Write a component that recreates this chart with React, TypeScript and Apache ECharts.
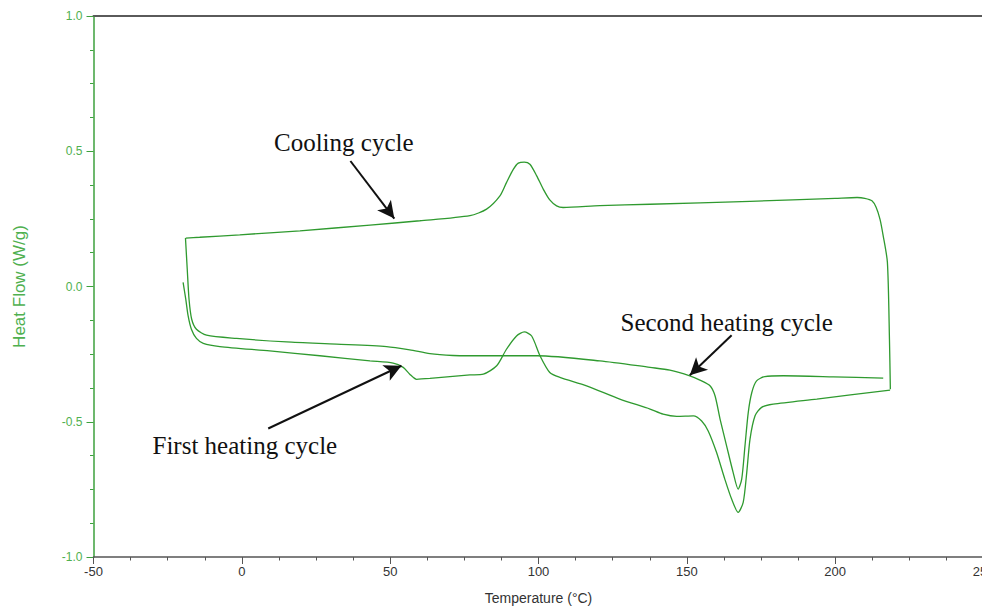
import React, { useEffect, useRef } from "react";
import * as echarts from "echarts";

// Cooling cycle (recorded from high to low temperature)
const coolX = [218.6, 218.3, 217.6, 216.1, 215.1, 213.8, 212.4, 210.0, 207.4, 200.0, 171.3, 137.6, 120.7, 108.3, 106.1, 103.8, 101.6, 99.4, 97.1, 95.2, 93.2, 91.5, 89.2, 87.0, 82.5, 76.9, 60.0, 43.2, 19.6, -0.7, -14.2, -18.9];
const coolY = [-0.38, -0.195, 0.09, 0.193, 0.249, 0.293, 0.317, 0.326, 0.329, 0.326, 0.315, 0.304, 0.299, 0.292, 0.298, 0.32, 0.36, 0.409, 0.452, 0.46, 0.456, 0.433, 0.384, 0.335, 0.286, 0.262, 0.243, 0.227, 0.206, 0.191, 0.182, 0.179];

// Second heating cycle
const secX = [-19.0, -18.4, -17.8, -16.9, -15.3, -11.9, -1.8, 15.1, 31.9, 48.8, 56.6, 63.4, 71.2, 76.9, 99.5, 120.7, 137.6, 144.3, 151.0, 154.4, 157.8, 159.5, 161.2, 163.4, 165.6, 167.3, 168.5, 169.6, 170.7, 171.9, 173.5, 176.3, 182.5, 199.4, 216.2];
const secY = [0.179, 0.064, -0.047, -0.121, -0.158, -0.18, -0.192, -0.205, -0.213, -0.222, -0.234, -0.248, -0.255, -0.256, -0.256, -0.275, -0.299, -0.309, -0.33, -0.346, -0.367, -0.404, -0.49, -0.589, -0.687, -0.749, -0.712, -0.589, -0.466, -0.392, -0.349, -0.333, -0.33, -0.334, -0.339];

// First heating cycle
const firX = [-19.8, -18.9, -18.1, -17.0, -15.3, -13.0, -7.4, 9.4, 26.3, 43.2, 51.0, 54.4, 56.6, 58.9, 63.4, 76.9, 81.4, 85.9, 89.2, 92.6, 95.2, 97.7, 100.5, 103.8, 107.2, 116.2, 127.4, 137.6, 142.0, 146.6, 152.2, 155.0, 157.2, 160.0, 162.8, 165.1, 167.3, 169.0, 170.2, 171.3, 173.0, 175.2, 179.1, 193.8, 218.5];
const firY = [0.015, -0.047, -0.109, -0.158, -0.192, -0.21, -0.222, -0.238, -0.256, -0.275, -0.283, -0.299, -0.324, -0.343, -0.34, -0.327, -0.324, -0.293, -0.232, -0.183, -0.168, -0.183, -0.256, -0.318, -0.336, -0.367, -0.416, -0.453, -0.472, -0.48, -0.478, -0.497, -0.534, -0.613, -0.712, -0.786, -0.835, -0.798, -0.687, -0.564, -0.478, -0.447, -0.435, -0.416, -0.383];

// Annotation arrows: [fromX, fromY, toX, toY] in data units
const arrowCooling = [36.6, 0.464, 51.4, 0.251];
const arrowFirst = [8.9, -0.525, 53.8, -0.293];
const arrowSecond = [165.1, -0.18, 151.0, -0.328];

const xMin = -50;
const xMax = 250;
const xInterval = 50;
const yMin = -1;
const yMax = 1;
const yInterval = 0.5;

const zip = (xs: number[], ys: number[]) => xs.map((x, i) => [x, ys[i]]);

const LINE = "#2f9a2f";
const AXISGREEN = "#3ca03c";
const LABELGREEN = "#4fb04f";

export default function App() {
  const ref = useRef<HTMLDivElement>(null);
  useEffect(() => {
    if (!ref.current) return;
    const chart = echarts.init(ref.current, undefined, { renderer: "svg" });
    const arrow = (a: number[]) => [
      { coord: [a[0], a[1]], symbol: "none" },
      { coord: [a[2], a[3]], symbol: "arrow" },
    ];
    const serif = '"Liberation Serif", "Times New Roman", serif';
    chart.setOption({
      animation: false,
      backgroundColor: "#ffffff",
      textStyle: { fontFamily: '"Liberation Sans", Arial, sans-serif' },
      grid: {
        left: 93.5,
        right: -1.5,
        top: 16,
        bottom: 53,
        containLabel: false,
        outerBoundsMode: "none",
      },
      xAxis: [
        {
          type: "value",
          min: xMin,
          max: xMax,
          interval: xInterval,
          name: "Temperature (°C)",
          nameLocation: "middle",
          nameGap: 34,
          nameTextStyle: { color: "#333", fontSize: 14 },
          axisLine: { onZero: false, lineStyle: { color: "#555", width: 1.5 } },
          axisTick: { show: true, length: 7, lineStyle: { color: "#555" } },
          minorTick: { show: true, splitNumber: 4, length: 3.5, lineStyle: { color: "#555" } },
          axisLabel: { color: "#333", fontSize: 13, margin: 8 },
          splitLine: { show: false },
        },
        {
          type: "value",
          position: "top",
          min: xMin,
          max: xMax,
          axisLine: { onZero: false, show: true, lineStyle: { color: "#5a5a5a", width: 2 } },
          axisTick: { show: false },
          axisLabel: { show: false },
          splitLine: { show: false },
        },
      ],
      yAxis: {
        type: "value",
        min: yMin,
        max: yMax,
        interval: yInterval,
        name: "Heat Flow (W/g)",
        nameLocation: "middle",
        nameGap: 66,
        nameTextStyle: { color: LABELGREEN, fontSize: 17 },
        axisLine: { show: true, onZero: false, lineStyle: { color: AXISGREEN, width: 1.5 } },
        axisTick: { show: true, length: 7, lineStyle: { color: AXISGREEN } },
        minorTick: { show: true, splitNumber: 4, length: 3.5, lineStyle: { color: AXISGREEN } },
        axisLabel: { color: LABELGREEN, fontSize: 12, margin: 11, formatter: (v: number) => v.toFixed(1) },
        splitLine: { show: false },
      },
      series: [
        {
          name: "Cooling cycle",
          type: "line",
          data: zip(coolX, coolY),
          showSymbol: false,
          smooth: 0.25,
          lineStyle: { color: LINE, width: 1.3 },
          markLine: {
            silent: true,
            symbol: ["none", "arrow"],
            symbolSize: [13, 17],
            label: { show: false },
            lineStyle: { color: "#111", width: 2, type: "solid" },
            data: [arrow(arrowCooling), arrow(arrowFirst), arrow(arrowSecond)],
          },
        },
        {
          name: "Second heating cycle",
          type: "line",
          data: zip(secX, secY),
          showSymbol: false,
          smooth: 0.25,
          lineStyle: { color: LINE, width: 1.3 },
        },
        {
          name: "First heating cycle",
          type: "line",
          data: zip(firX, firY),
          showSymbol: false,
          smooth: 0.25,
          lineStyle: { color: LINE, width: 1.3 },
        },
      ],
      graphic: [
        {
          type: "text",
          x: 274,
          y: 142.5,
          style: { text: "Cooling cycle", font: `25px ${serif}`, fill: "#111", verticalAlign: "middle", align: "left" },
        },
        {
          type: "text",
          x: 620.5,
          y: 322.5,
          style: { text: "Second heating cycle", font: `25px ${serif}`, fill: "#111", verticalAlign: "middle", align: "left" },
        },
        {
          type: "text",
          x: 152.5,
          y: 445,
          style: { text: "First heating cycle", font: `25px ${serif}`, fill: "#111", verticalAlign: "middle", align: "left" },
        },
      ],
    });
    return () => chart.dispose();
  }, []);
  return (
    <div
      ref={ref}
      style={{ position: "fixed", left: 0, top: 0, width: 982, height: 610, background: "#fff" }}
    />
  );
}
